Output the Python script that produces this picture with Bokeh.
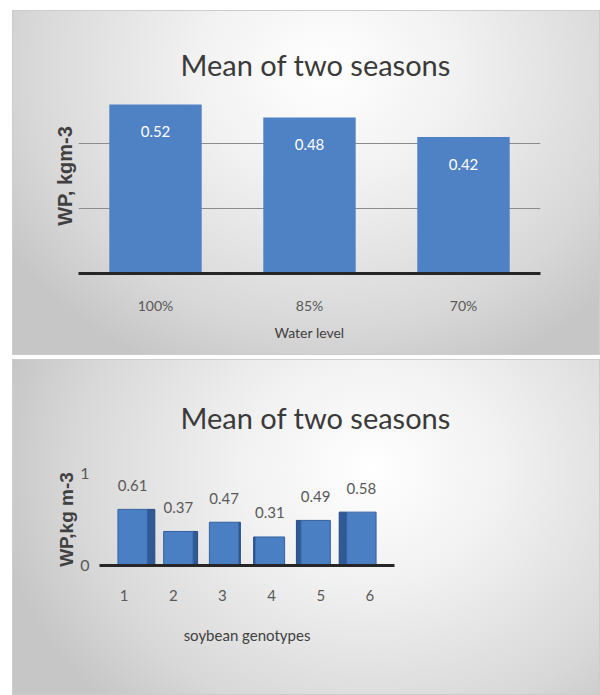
import numpy as np
from bokeh.plotting import figure
from bokeh.models import FactorRange, Range1d, FixedTicker, Grid
from bokeh.core.properties import value
from bokeh.embed import file_html
from bokeh.resources import INLINE

# Water productivity (WP) by irrigation water level
water_levels = ["100%", "85%", "70%"]
wp_water = [0.52, 0.48, 0.42]

# Water productivity (WP) by soybean genotype
genotypes = ["1", "2", "3", "4", "5", "6"]
wp_genotype = [0.61, 0.37, 0.47, 0.31, 0.49, 0.58]

chart_title = "Mean of two seasons"

FONT = "Lato"
BOLD_FONT = "Liberation Sans"
TEXT_DARK = "#404040"
TEXT_MID = "#595959"
BAR_BLUE = "#4f82c4"


def panel_css(cx, cy):
    return {
        "background": (
            f"radial-gradient(ellipse 380px 330px at {cx}px {cy}px, "
            "#ffffff 0%, #f1f1f1 35%, #d8d8d8 78%, #c6c6c6 100%)"
        ),
        "box-shadow": "inset 0 0 0 1px #cdcdcd",
    }


def style_panel(p, cx, cy):
    p.background_fill_color = None
    p.border_fill_color = None
    p.outline_line_color = None
    p.styles = panel_css(cx, cy)
    p.title.text_font = FONT
    p.title.text_font_size = "29px"
    p.title.text_font_style = "normal"
    p.title.text_color = "#3a3a3a"
    p.title.align = "left"


# ---- top panel: bars by water level ----
p1 = figure(
    width=588, height=345,
    x_range=FactorRange(*water_levels, range_padding=0),
    y_range=Range1d(0, 0.6),
    min_border_left=66, min_border_right=60,
    min_border_top=68, min_border_bottom=82,
    output_backend="svg", toolbar_location=None,
    title=chart_title,
)
style_panel(p1, 315, 60)
p1.title.offset = 102
p1.title.standoff = -6

p1.vbar(x=water_levels, top=wp_water, width=0.6, fill_color=BAR_BLUE, line_color=None)
p1.text(
    x=water_levels, y=wp_water, text=[f"{v:.2f}" for v in wp_water],
    y_offset=27, text_align="center", text_baseline="middle",
    text_color="white", text_font=value(FONT), text_font_size="15px",
)

p1.xgrid.grid_line_color = None
p1.ygrid.ticker = FixedTicker(ticks=[0.2, 0.4])
p1.ygrid.grid_line_color = "#8c8c8c"
p1.ygrid.grid_line_width = 1.2
p1.add_layout(Grid(dimension=1, ticker=FixedTicker(ticks=[0.6]),
                   grid_line_color="#d6d6d6", grid_line_width=1.2))

xa = p1.xaxis[0]
xa.axis_line_width = 3
xa.axis_line_color = "#262626"
xa.major_tick_line_color = None
xa.minor_tick_line_color = None
xa.major_tick_out = 0
xa.major_label_text_font = FONT
xa.major_label_text_font_size = "14px"
xa.major_label_text_color = TEXT_MID
xa.major_label_standoff = 23
xa.axis_label = "Water level"
xa.axis_label_text_font = FONT
xa.axis_label_text_font_size = "14px"
xa.axis_label_text_font_style = "normal"
xa.axis_label_text_color = TEXT_DARK
xa.axis_label_standoff = 7

ya = p1.yaxis[0]
ya.ticker = FixedTicker(ticks=[])
ya.axis_line_color = None
ya.major_tick_line_color = None
ya.minor_tick_line_color = None
ya.major_tick_out = 0
ya.axis_label = "WP, kgm-3"
ya.axis_label_text_font = BOLD_FONT
ya.axis_label_text_font_size = "20px"
ya.axis_label_text_font_style = "bold"
ya.axis_label_text_color = TEXT_DARK
ya.axis_label_standoff = 3

p1.margin = (10, 0, 0, 12)

# ---- bottom panel: 3-D style columns by genotype ----
n = len(genotypes)
centers = np.arange(n) + 0.5
vp = n / 2.0                          # perspective vanishing point (x)
front_x = vp + (centers - vp) * 0.93  # front faces drawn slightly toward the middle
half_w = 0.30
side_w = np.abs(centers - vp) * 0.06
left_side = centers < vp
side_left = np.where(left_side, front_x + half_w, front_x - half_w - side_w)
side_right = np.where(left_side, front_x + half_w + side_w, front_x - half_w)

p2 = figure(
    width=588, height=336,
    x_range=Range1d(0, n), y_range=Range1d(0, 1),
    min_border_left=87, min_border_right=206,
    min_border_top=114, min_border_bottom=130,
    output_backend="svg", toolbar_location=None,
    title=chart_title,
)
style_panel(p2, 360, 110)
p2.title.offset = 81
p2.title.standoff = 77

p2.quad(left=side_left, right=side_right, bottom=0, top=wp_genotype,
        fill_color="#2f5a96", line_color="#264c82", line_width=1)
p2.quad(left=front_x - half_w, right=front_x + half_w, bottom=0, top=wp_genotype,
        fill_color="#4a7fc4", line_color="#34609f", line_width=1)
p2.text(
    x=front_x, y=wp_genotype, text=[f"{v:.2f}" for v in wp_genotype],
    y_offset=-24, text_align="center", text_baseline="middle",
    text_color=TEXT_MID, text_font=value(FONT), text_font_size="15px",
)

p2.xgrid.grid_line_color = None
p2.ygrid.ticker = FixedTicker(ticks=[1])
p2.ygrid.grid_line_color = "#d0d0d0"
p2.ygrid.grid_line_width = 1.2

xb = p2.xaxis[0]
xb.ticker = FixedTicker(ticks=list(centers))
xb.major_label_overrides = {float(c): g for c, g in zip(centers, genotypes)}
xb.axis_line_width = 3
xb.axis_line_color = "#262626"
xb.major_tick_line_color = None
xb.minor_tick_line_color = None
xb.major_tick_out = 0
xb.major_label_text_font = FONT
xb.major_label_text_font_size = "15px"
xb.major_label_text_color = TEXT_MID
xb.major_label_standoff = 24
xb.axis_label = "soybean genotypes"
xb.axis_label_text_font = FONT
xb.axis_label_text_font_size = "15px"
xb.axis_label_text_font_style = "normal"
xb.axis_label_text_color = TEXT_DARK
xb.axis_label_standoff = 22

yb = p2.yaxis[0]
yb.ticker = FixedTicker(ticks=[0, 1])
yb.axis_line_color = None
yb.major_tick_line_color = None
yb.minor_tick_line_color = None
yb.major_tick_out = 0
yb.major_label_text_font = FONT
yb.major_label_text_font_size = "16px"
yb.major_label_text_color = TEXT_MID
yb.major_label_standoff = 10
yb.axis_label = "WP,kg m-3"
yb.axis_label_text_font = BOLD_FONT
yb.axis_label_text_font_size = "19px"
yb.axis_label_text_font_style = "bold"
yb.axis_label_text_color = TEXT_DARK
yb.axis_label_standoff = 0

p2.margin = (4, 0, 0, 12)

# two independent roots so each panel keeps its own frame geometry
open("out.html", "w").write(file_html([p1, p2], INLINE))
